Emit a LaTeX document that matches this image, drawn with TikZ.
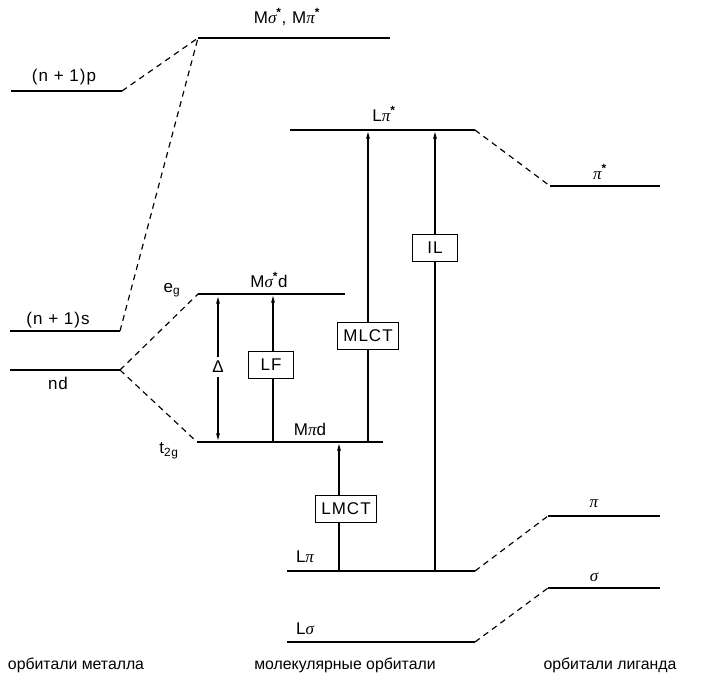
\documentclass[tikz,border=0pt]{standalone}
\usepackage{fontspec}
\setmainfont{Liberation Sans}
\newfontfamily\grk{Liberation Serif}
\newcommand\gpi{{\grk\itshape π}}
\newcommand\gsig{{\grk\itshape σ}}
\newcommand\st{\textsuperscript{\bfseries *}}
\usetikzlibrary{arrows.meta}
\begin{document}
\begin{tikzpicture}[x=0.03cm,y=-0.03cm,>={Stealth[length=6pt,width=3.4pt]},every node/.style={font=\fontsize{14.5}{16}\selectfont\addfontfeatures{LetterSpace=6}},
lev/.style={line width=2.1pt},dsh/.style={dash pattern=on 5pt off 4pt,line width=1pt},tr/.style={draw,line width=1.1pt,inner xsep=5pt,inner ysep=3pt,minimum height=8mm,minimum width=13.5mm},
ar/.style={line width=0.9pt},bot/.style={font=\fontsize{13.5}{16}\selectfont}]
\useasboundingbox (0,0) rectangle (715,681);
% levels
\coordinate (p1) at (11,91);\coordinate (p2) at (122,91);\coordinate (s1) at (10,331);\coordinate (s2) at (120,331);
\coordinate (d1) at (10,370);\coordinate (d2) at (120,370);
\coordinate (m1) at (198,38);\coordinate (m2) at (390,38);\coordinate (e1) at (198,294);\coordinate (e2) at (345,294);
\coordinate (t1) at (197,442);\coordinate (t2) at (383,442);\coordinate (a1) at (290,130);\coordinate (a2) at (475,130);
\coordinate (b1) at (287,571);\coordinate (b2) at (475,571);\coordinate (c1) at (287,642);\coordinate (c2) at (475,642);
\coordinate (q1) at (550,186);\coordinate (q2) at (660,186);\coordinate (r1) at (548,516);\coordinate (r2) at (660,516);
\coordinate (u1) at (548,588);\coordinate (u2) at (660,588);
\foreach \l/\r in {p1/p2,s1/s2,d1/d2,m1/m2,e1/e2,t1/t2,a1/a2,b1/b2,c1/c2,q1/q2,r1/r2,u1/u2} \draw[lev] (\l)--(\r);
\foreach \l/\r in {p2/m1,s2/m1,d2/e1,d2/t1,a2/q1,b2/r1,c2/u1} \draw[dsh] (\l)--(\r);
% labels
\node (lm) at (287,17){M\gsig\st, M\gpi\st};\node (lp) at (64,77){(n + 1)p};\node (ls) at (58,320){(n + 1)s};
\node (lnd) at (58,383){nd};\node (leg) at (172,290){e\textsubscript{g}};\node (lt) at (169,451){t\textsubscript{2g}};
\node (lmsd) at (269,280){M\gsig\st d};\node (lmpd) at (310,429){M\gpi d};\node (lla) at (384,114){L\gpi\st};
\node (llp) at (305,557){L\gpi};\node (lls) at (305,629){L\gsig};
\node (lq) at (600,172){\gpi\st};\node (lr) at (594,504){\gpi};\node (lu) at (594,577){\gsig};
% transitions
\node (del) at (218,367){Δ};\node[tr] (lf) at (271,365){LF};\node[tr] (ml) at (368,336){MLCT};
\node[tr] (il) at (435,248){IL};\node[tr] (lc) at (346,509){LMCT};
\coordinate (dt) at (218,297);\coordinate (db) at (218,440);\coordinate (ft) at (273,296);\coordinate (fb) at (273,442);
\coordinate (mt) at (368,132);\coordinate (mb) at (368,442);\coordinate (it) at (435,132);\coordinate (ib) at (435,571);
\coordinate (ct) at (339,444);\coordinate (cb) at (339,571);
\draw[ar,->] (del.north)--(dt);\draw[ar,->] (del.south)--(db);
\draw[ar] (fb)--(fb|-lf.south);\draw[ar,->] (ft|-lf.north)--(ft);
\draw[ar] (mb)--(ml.south);\draw[ar,->] (ml.north)--(mt);
\draw[ar] (ib)--(il.south);\draw[ar,->] (il.north)--(it);
\draw[ar] (cb)--(cb|-lc.south);\draw[ar,->] (ct|-lc.north)--(ct);
% bottom
\node[bot] (bm) at (76,665){орбитали металла};\node[bot] (bo) at (345,665){молекулярные орбитали};\node[bot] (bl) at (610,665){орбитали лиганда};
\end{tikzpicture}
\end{document}
